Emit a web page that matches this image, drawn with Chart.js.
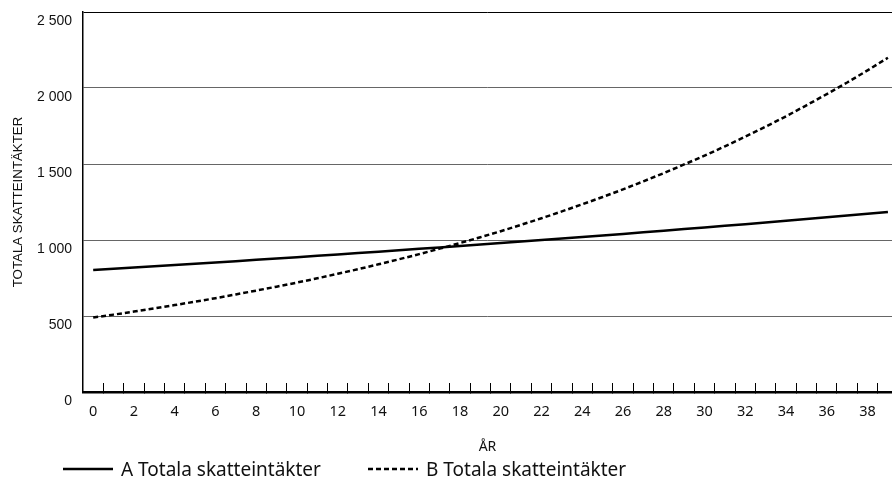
<!DOCTYPE html>
<html>
<head>
<meta charset="utf-8">
<script src="https://cdn.jsdelivr.net/npm/chart.js@4.4.1/dist/chart.umd.min.js"></script>
<style>
    html, body { margin: 0; padding: 0; background: #fff; }
    #wrap { position: relative; width: 892px; height: 481px; }
    .legend-item {
        position: absolute;
        top: 456px;
        display: flex;
        align-items: center;
        font: 19px 'Noto Sans', sans-serif;
        color: #111;
        white-space: nowrap;
    }
    .legend-item canvas { margin-right: 8px; }
</style>
</head>
<body>
<div id="wrap">
    <canvas id="taxChart" width="892" height="481"></canvas>
</div>
<script>
// years on the x axis
const years = [0, 1, 2, 3, 4, 5, 6, 7, 8, 9, 10, 11, 12, 13, 14, 15, 16, 17, 18, 19,
               20, 21, 22, 23, 24, 25, 26, 27, 28, 29, 30, 31, 32, 33, 34, 35, 36, 37, 38, 39];

// A: slow steady growth
const seriesA = [803, 811, 819, 827, 836, 844, 852, 861, 870, 878,
                 887, 896, 905, 914, 923, 932, 942, 951, 961, 970,
                 980, 990, 1000, 1010, 1020, 1030, 1040, 1051, 1061, 1072,
                 1083, 1093, 1104, 1115, 1127, 1138, 1149, 1161, 1172, 1184];

// B: starts lower, grows faster
const seriesB = [490, 509, 529, 550, 572, 594, 617, 642, 667, 693,
                 720, 748, 778, 808, 840, 873, 907, 943, 980, 1018,
                 1058, 1100, 1143, 1188, 1235, 1283, 1333, 1386, 1440, 1497,
                 1555, 1616, 1680, 1746, 1814, 1886, 1960, 2036, 2116, 2199];

const seriesNames = ['A Totala skatteintäkter', 'B Totala skatteintäkter'];

const xTickLabels = ['0', '2', '4', '6', '8', '10', '12', '14', '16', '18',
                     '20', '22', '24', '26', '28', '30', '32', '34', '36', '38'];
const yTicks = [0, 500, 1000, 1500, 2000, 2500];
const yTickLabels = ['0', '500', '1\u00a0000', '1\u00a0500', '2\u00a0000', '2\u00a0500'];

const ctx = document.getElementById('taxChart').getContext('2d');

const chart = new Chart(ctx, {
    type: 'line',
    data: {
        labels: years,
        datasets: [
            {
                label: seriesNames[0],
                data: seriesA,
                borderColor: '#000',
                borderWidth: 2.5,
                pointRadius: 0,
                fill: false
            },
            {
                label: seriesNames[1],
                data: seriesB,
                borderColor: '#000',
                borderWidth: 2.5,
                borderDash: [5, 3],
                pointRadius: 0,
                fill: false
            }
        ]
    },
    options: {
        responsive: false,
        devicePixelRatio: 1,
        animation: false,
        layout: {
            padding: { top: 12, right: 0, bottom: 26, left: 0 }
        },
        plugins: {
            legend: { display: false },
            tooltip: { enabled: false }
        },
        scales: {
            x: {
                type: 'linear',
                min: -0.5,
                max: 39.2,
                afterBuildTicks: scale => {
                    // a mark on every half year, labels on the even years
                    scale.ticks = years.flatMap(y => y < 39 ? [{ value: y }, { value: y + 0.5 }] : [{ value: y }]);
                },
                afterFit: scale => {
                    scale.height = 63;
                    scale.paddingTop = 0;
                    scale.paddingLeft = 0;
                    scale.paddingRight = 0;
                },
                border: { display: true, color: '#000', width: 2.5 },
                grid: {
                    drawOnChartArea: false,
                    tickLength: -9,
                    lineWidth: 1,
                    color: c => Number.isInteger(c.tick.value) ? 'rgba(0,0,0,0)' : '#000'
                },
                ticks: {
                    autoSkip: false,
                    maxRotation: 0,
                    padding: 20,
                    color: '#111',
                    font: { family: 'Noto Sans', size: 14.5 },
                    callback: value => xTickLabels.includes(String(value)) ? String(value) : ''
                },
                title: {
                    display: true,
                    text: 'ÅR',
                    color: '#111',
                    font: { family: 'Noto Sans', size: 14 },
                    padding: { top: 0, bottom: 0 }
                }
            },
            y: {
                min: 0,
                max: 2500,
                afterBuildTicks: scale => {
                    scale.ticks = yTicks.map(value => ({ value }));
                },
                afterFit: scale => {
                    scale.width = 83;
                    scale.paddingTop = 0;
                    scale.paddingBottom = 0;
                },
                border: { display: true, color: '#000', width: 1.5 },
                grid: {
                    drawTicks: false,
                    lineWidth: 1,
                    color: c => c.tick.value === 2500 ? '#000' : '#666'
                },
                ticks: {
                    padding: 11,
                    labelOffset: 9,
                    color: '#111',
                    font: { family: 'Liberation Sans', size: 14 },
                    callback: value => yTickLabels[yTicks.indexOf(value)]
                },
                title: {
                    display: true,
                    text: 'TOTALA SKATTEINTÄKTER',
                    color: '#111',
                    font: { family: 'Liberation Sans', size: 13.3 },
                    padding: { top: 10, bottom: 0 }
                }
            }
        }
    }
});

// legend below the chart, built from the datasets
const legendLeft = [63, 368];
chart.data.datasets.forEach((ds, i) => {
    const item = document.createElement('div');
    item.className = 'legend-item';
    item.style.left = legendLeft[i] + 'px';

    const sample = document.createElement('canvas');
    sample.width = 50;
    sample.height = 6;
    const sctx = sample.getContext('2d');
    sctx.strokeStyle = ds.borderColor;
    sctx.lineWidth = ds.borderWidth;
    sctx.setLineDash(ds.borderDash || []);
    sctx.beginPath();
    sctx.moveTo(0, 3);
    sctx.lineTo(50, 3);
    sctx.stroke();

    const text = document.createElement('span');
    text.textContent = ds.label;

    item.appendChild(sample);
    item.appendChild(text);
    document.getElementById('wrap').appendChild(item);
});
</script>
</body>
</html>
